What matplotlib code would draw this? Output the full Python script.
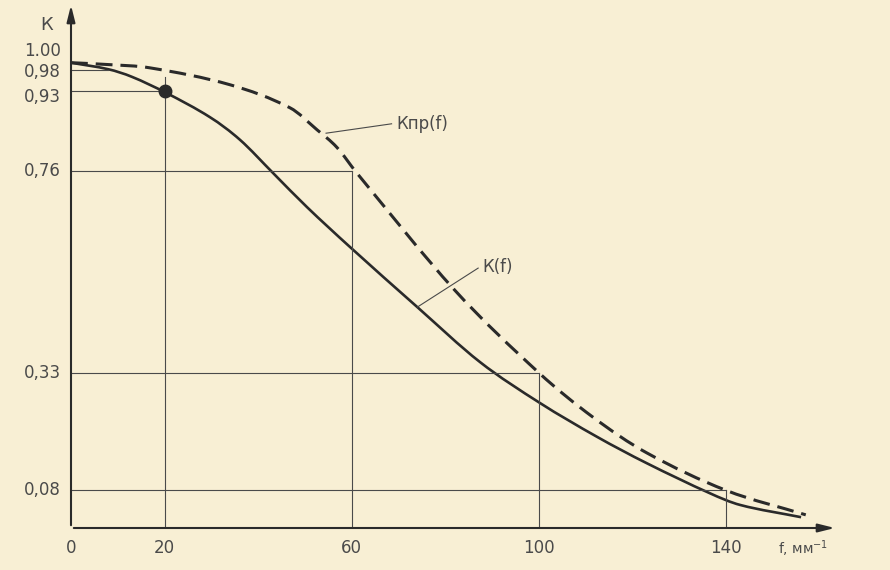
import numpy as np
import matplotlib
matplotlib.use("Agg")
import matplotlib.pyplot as plt
from matplotlib.path import Path
from matplotlib.patches import PathPatch

# K(f) - solid curve
f_k = [0, 8, 13, 20.3, 29.7, 36.1, 43.2, 50.4, 59.6, 74, 87.4, 100.2, 112.4, 123, 136.5, 143, 156]
k_f = [0.99, 0.976, 0.96, 0.926, 0.874, 0.826, 0.755, 0.683, 0.598, 0.47, 0.353, 0.266, 0.194, 0.138, 0.074, 0.049, 0.023]

# Kпр(f) - dashed curve
f_kpr = [0, 8, 16.9, 34, 46.8, 52.6, 56.8, 61.1, 82, 100, 111.5, 123, 140, 157]
k_pr = [0.99, 0.986, 0.979, 0.943, 0.894, 0.847, 0.81, 0.755, 0.506, 0.33, 0.236, 0.16, 0.08, 0.028]

# guide lines (f, K) and tick labels
guide_f = [20, 60, 100, 140]
guide_k = [0.93, 0.76, 0.33, 0.08]
y_ticks = [1.0, 0.98, 0.93, 0.76, 0.33, 0.08]
y_labels = ['1.00', '0,98', '0,93', '0,76', '0,33', '0,08']
x_ticks = [0, 20, 60, 100, 140]
x_labels = ['0', '20', '60', '100', '140']

bg = '#f8efd4'
ink = '#2a2a2a'
thin = '#4a4a4a'


def smooth_path(xs, ys):
    # cubic Hermite through the read points, drawn as Bezier segments
    x = np.asarray(xs, float)
    y = np.asarray(ys, float)
    n = len(x)
    m = np.empty(n)
    m[0] = (y[1] - y[0]) / (x[1] - x[0])
    m[-1] = (y[-1] - y[-2]) / (x[-1] - x[-2])
    m[1:-1] = (y[2:] - y[:-2]) / (x[2:] - x[:-2])
    verts = [(x[0], y[0])]
    codes = [Path.MOVETO]
    for i in range(n - 1):
        h = (x[i + 1] - x[i]) / 3
        verts += [(x[i] + h, y[i] + h * m[i]),
                  (x[i + 1] - h, y[i + 1] - h * m[i + 1]),
                  (x[i + 1], y[i + 1])]
        codes += [Path.CURVE4] * 3
    return Path(verts, codes)


fig = plt.figure(figsize=(8.9, 5.7), dpi=100, facecolor=bg)
xmax = (840 - 71) / 4.68
ymax = 528 / 470
ax = fig.add_axes([71 / 890, 42 / 570, (840 - 71) / 890, 528 / 570], facecolor=bg)
ax.set_xlim(0, xmax)
ax.set_ylim(0, ymax)
for s in ax.spines.values():
    s.set_visible(False)

# guide lines
ax.plot([0, 8], [0.975, 0.975], color=thin, lw=0.8)
ax.plot([20, 20], [0, 0.96], color=thin, lw=0.8)
for gf, gk in zip(guide_f, guide_k):
    ax.plot([0, gf], [gk, gk], color=thin, lw=0.8)
    if gf != 20:
        ax.plot([gf, gf], [0, gk], color=thin, lw=0.8)

# curves
ax.add_patch(PathPatch(smooth_path(f_k, k_f), fill=False, edgecolor=ink, lw=1.9))
ax.add_patch(PathPatch(smooth_path(f_kpr, k_pr), fill=False, edgecolor=ink, lw=2.2,
                       linestyle=(0, (5.5, 2.6))))
ax.plot([20], [0.93], 'o', color=ink, ms=9)

# axes with arrows
arrow = dict(arrowstyle='-|>,head_length=1.0,head_width=0.25', color=ink, lw=1.5)
ax.annotate('', xy=(xmax - 0.5, 0), xytext=(0, 0), arrowprops=arrow, annotation_clip=False)
ax.annotate('', xy=(0, ymax - 0.005), xytext=(0, 0), arrowprops=arrow, annotation_clip=False)

ax.set_xticks(x_ticks)
ax.set_xticklabels(x_labels, fontsize=12, color=thin)
ax.tick_params(axis='x', length=0, pad=8)
ax.set_yticks([])

# y labels: the top three are spread apart as in the original
nudge = {1.0: 0.015, 0.98: -0.01, 0.93: -0.012}
for v, lab in zip(y_ticks, y_labels):
    ax.text(-2.2, v + nudge.get(v, 0), lab, fontsize=12, color=thin, ha='right', va='center')

ax.text(-5.2, 1.07, 'К', fontsize=13, color=thin, ha='center', va='center')
ax.text(151, -0.045, 'f, мм$^{-1}$', fontsize=10, color=thin, ha='left', va='center')

# callouts
ax.text(69.5, 0.86, 'Кпр(f)', fontsize=12, color=thin, ha='left', va='center')
ax.plot([68.5, 54.5], [0.86, 0.84], color=thin, lw=0.8)
ax.text(88, 0.555, 'К(f)', fontsize=12, color=thin, ha='left', va='center')
ax.plot([87, 74], [0.553, 0.47], color=thin, lw=0.8)

fig.savefig('out.png', dpi=100, facecolor=bg)
